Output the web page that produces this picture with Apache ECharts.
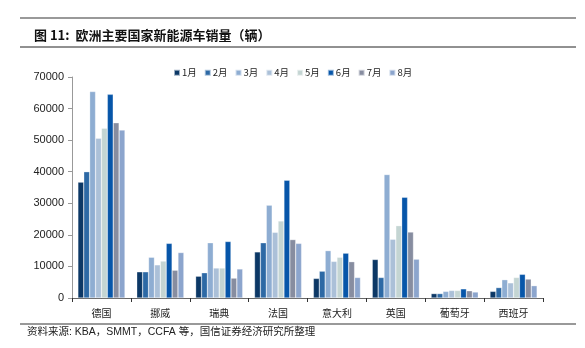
<!DOCTYPE html>
<html><head><meta charset="utf-8">
<script src="https://cdn.jsdelivr.net/npm/echarts@6/dist/echarts.min.js"></script>
<style>html,body{margin:0;padding:0;background:#fff}#c{width:585px;height:348px}</style>
</head><body><div id="c"></div>
<script>
const categories = ['德国','挪威','瑞典','法国','意大利','英国','葡萄牙','西班牙'];
const months = ['1月','2月','3月','4月','5月','6月','7月','8月'];
const m1 = [36700, 8300, 6900, 14600, 6200, 12200, 1400, 2100];
const m2 = [40000, 8300, 8000, 17500, 8500, 6500, 1400, 3300];
const m3 = [65400, 12900, 17500, 29400, 15000, 39100, 2100, 5800];
const m4 = [50600, 10500, 9500, 20800, 11600, 18600, 2400, 4800];
const m5 = [53800, 11700, 9500, 24400, 12900, 22900, 2400, 6500];
const m6 = [64500, 17300, 17900, 37300, 14200, 31900, 2900, 7500];
const m7 = [55500, 8800, 6300, 18500, 11500, 20900, 2300, 6000];
const m8 = [53200, 14400, 9200, 17300, 6500, 12300, 1900, 3900];
const seriesData = [m1, m2, m3, m4, m5, m6, m7, m8];
const colors = ['#0c3866','#2d69a5','#8eadd2','#abc0d8','#c4d5d3','#0756a9','#878da0','#8ca5cd'];
const yTicks = [0, 10000, 20000, 30000, 40000, 50000, 60000, 70000];

const chart = echarts.init(document.getElementById('c'));
const cjk = '"Noto Sans CJK SC", sans-serif';
chart.setOption({
  animation: false,
  color: colors,
  title: {
    text: '图 11:  欧洲主要国家新能源车销量（辆）',
    left: 29, top: 24,
    textStyle: {fontSize: 13, fontWeight: 'bold', color: '#111', fontFamily: cjk}
  },
  graphic: [
    {type: 'line', shape: {x1: 20, y1: 18, x2: 576, y2: 18}, style: {stroke: '#777', lineWidth: 1.5}},
    {type: 'line', shape: {x1: 20, y1: 47, x2: 576, y2: 47}, style: {stroke: '#222', lineWidth: 1}},
    {type: 'line', shape: {x1: 20, y1: 324, x2: 576, y2: 324}, style: {stroke: '#777', lineWidth: 1.5}},
    {type: 'text', left: 27, top: 327, style: {text: '资料来源: KBA，SMMT，CCFA 等，国信证券经济研究所整理', fontSize: 10.5, fill: '#222', fontFamily: '"Liberation Sans", "Noto Sans CJK SC", sans-serif'}}
  ],
  legend: {
    data: months, top: 63, left: 168,
    itemWidth: 6, itemHeight: 6, itemGap: 7,
    icon: 'rect',
    textStyle: {fontSize: 9.5, color: '#222', fontFamily: cjk, padding: [0,0,0,-3]}
  },
  grid: {left: 72, right: 42, top: 77, bottom: 50},
  xAxis: {
    type: 'category', data: categories,
    axisLine: {lineStyle: {color: '#666'}},
    axisTick: {show: true, length: 4, lineStyle: {color: '#333'}},
    axisLabel: {fontSize: 10, color: '#222', fontFamily: cjk, margin: 10}
  },
  yAxis: {
    type: 'value', min: 0, max: 70000, interval: 10000,
    splitLine: {show: false},
    axisLine: {show: true, lineStyle: {color: '#999'}},
    axisTick: {show: true, length: 4, lineStyle: {color: '#999'}},
    axisLabel: {fontSize: 11, color: '#222', fontFamily: '"Liberation Sans", Arial, sans-serif', margin: 8,
      formatter: v => String(v)}
  },
  series: seriesData.map((d, i) => ({
    name: months[i], type: 'bar', data: d,
    barGap: '0%', barCategoryGap: '20%',
    itemStyle: {borderColor: 'rgba(255,255,255,0.6)', borderWidth: 0.5}
  }))
});
</script></body></html>
